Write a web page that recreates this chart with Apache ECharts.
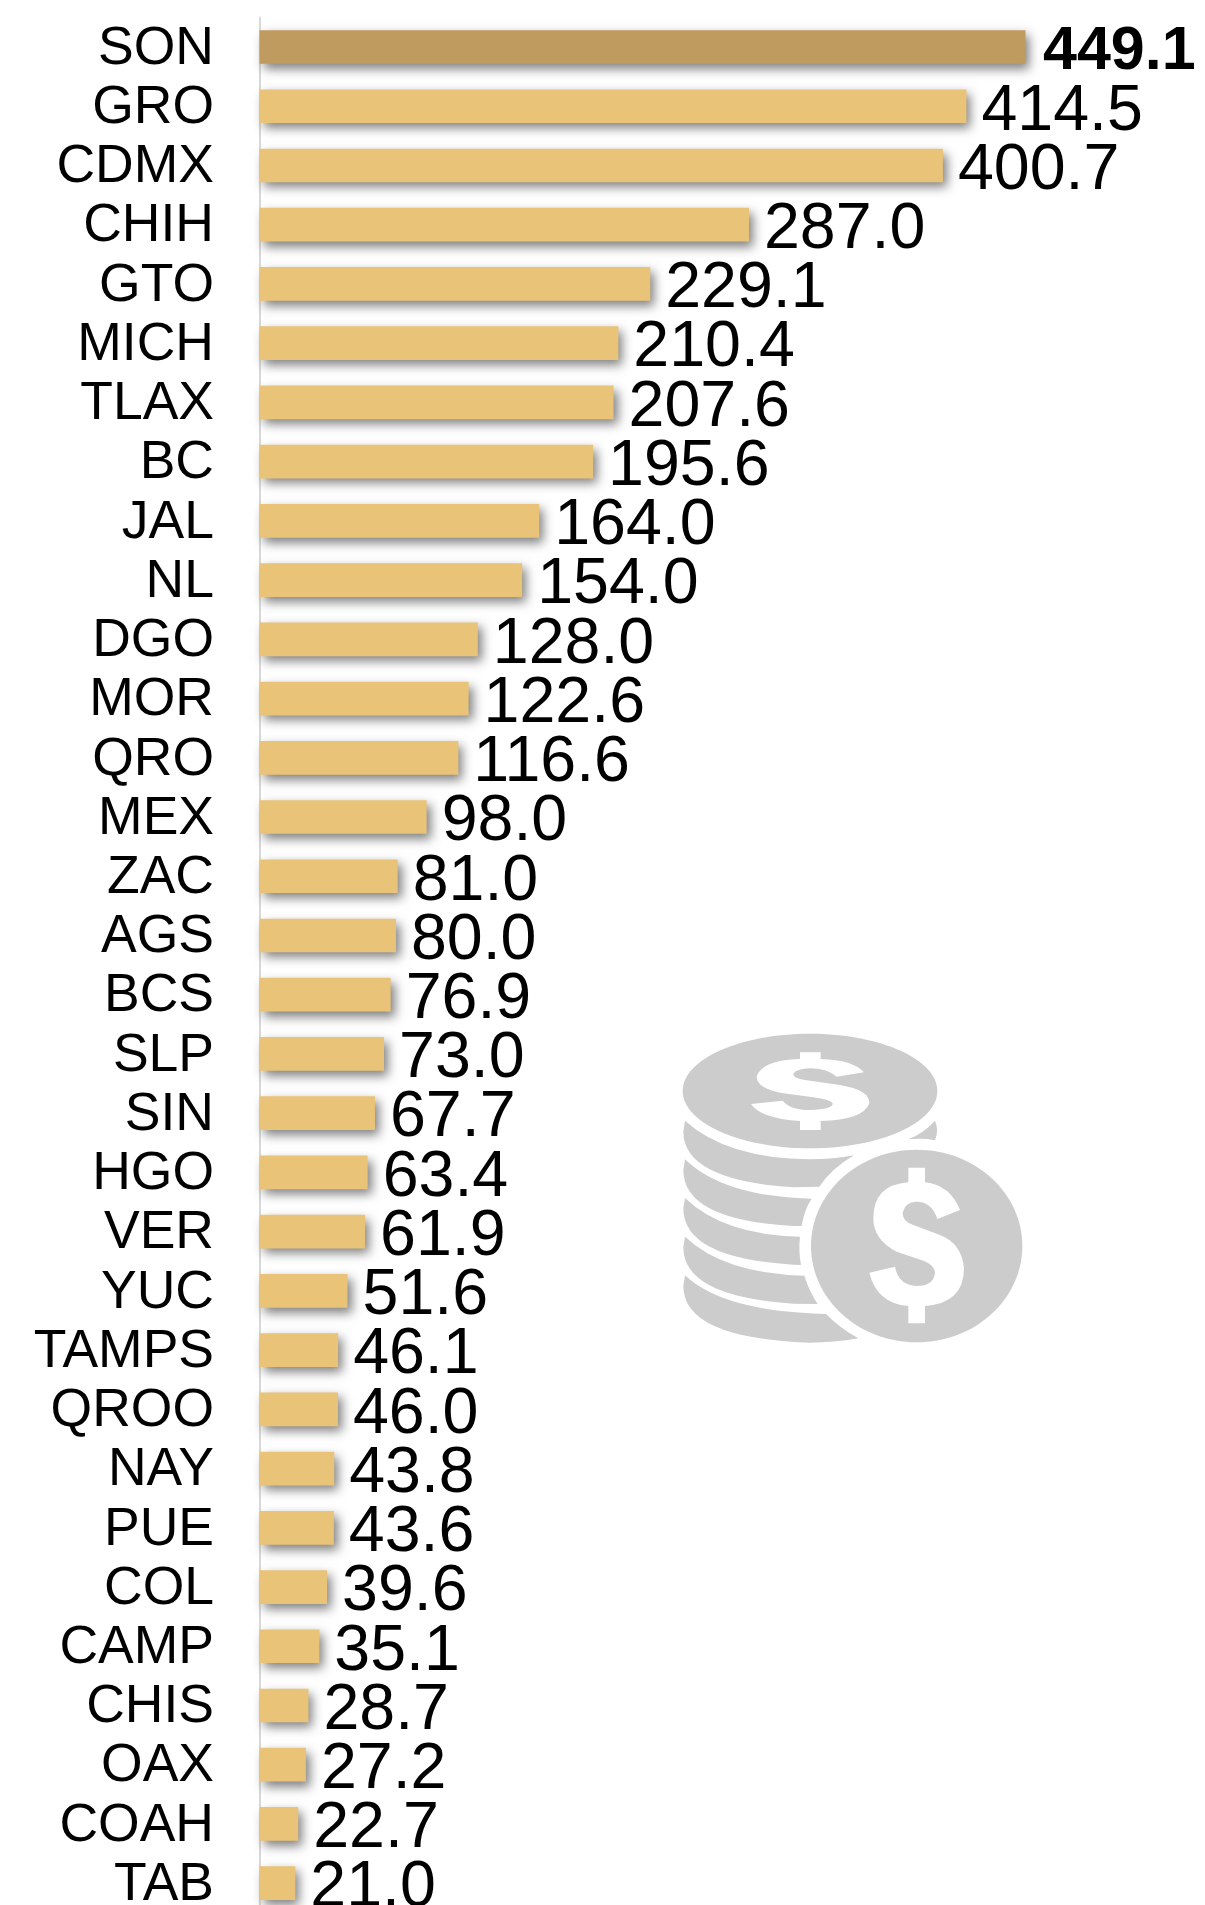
<!DOCTYPE html>
<html>
<head>
<meta charset="utf-8">
<style>html,body{margin:0;padding:0;background:#fff}#chart{width:1205px;height:1905px}</style>
<script src="https://cdn.jsdelivr.net/npm/echarts@6/dist/echarts.min.js"></script>
</head>
<body>
<div id="chart"></div>
<script>
const categories = ['SON','GRO','CDMX','CHIH','GTO','MICH','TLAX','BC','JAL','NL','DGO','MOR','QRO','MEX','ZAC','AGS','BCS','SLP','SIN','HGO','VER','YUC','TAMPS','QROO','NAY','PUE','COL','CAMP','CHIS','OAX','COAH','TAB'];
const values = [449.1,414.5,400.7,287.0,229.1,210.4,207.6,195.6,164.0,154.0,128.0,122.6,116.6,98.0,81.0,80.0,76.9,73.0,67.7,63.4,61.9,51.6,46.1,46.0,43.8,43.6,39.6,35.1,28.7,27.2,22.7,21.0];
const highlightCategory = 'SON';

const iconGrey = '#CCCCCC';
const iconPaths = [
 'M75,332 Q200,445 450,448 Q520,448 582,436 Q515,475 478,530 L400,532 Q70,510 70,365 Z',
 'M825,332 Q790,370 745,388 Q790,384 825,391 Q838,360 825,332 Z',
 'M75,448 Q190,560 455,566 Q432,600 425,648 L400,648 Q70,630 70,480 Z',
 'M75,564 Q190,675 420,680 Q415,720 423,765 L400,764 Q70,745 70,595 Z',
 'M75,680 Q190,790 433,797 Q448,845 473,882 L400,881 Q70,860 70,712 Z',
 'M75,796 Q190,905 498,912 Q540,955 595,985 Q520,998 450,998 Q70,985 70,828 Z'
];
const bigDollar = 'M900,600 Q870,525 795,517 L795,473 L745,473 L745,517 Q640,525 640,625 Q640,690 710,725 L790,752 Q825,765 825,790 Q820,828 770,828 Q715,825 705,770 L628,788 Q650,880 745,888 L745,940 L795,940 L795,888 Q912,880 912,775 Q905,700 840,675 L760,645 Q728,635 728,610 Q735,575 770,575 Q815,575 832,627 Z';
const smallDollar = 'M612,187 L530,200 Q500,175 450,175 Q400,178 400,195 Q405,208 450,212 L540,225 Q630,240 628,280 Q610,330 482,333 L482,360 L420,360 L420,333 Q300,325 273,282 L368,272 Q390,300 450,300 Q520,298 518,280 Q510,268 460,262 L370,250 Q290,235 290,200 Q305,150 420,147 L420,127 L482,127 L482,147 Q580,150 612,187 Z';

iconPaths.forEach((d,i)=>echarts.graphic.registerShape('coinLayer'+i, echarts.graphic.extendPath(d,{})));
echarts.graphic.registerShape('bigDollar', echarts.graphic.extendPath(bigDollar,{}));
echarts.graphic.registerShape('smallDollar', echarts.graphic.extendPath(smallDollar,{}));

const chart = echarts.init(document.getElementById('chart'), null, {renderer:'canvas'});
const fontFamily = '"Liberation Sans", Arial, sans-serif';
chart.setOption({
  animation:false,
  backgroundColor:'#fff',
  grid:{left:259.5,top:17.4,right:178,height:1895.4,containLabel:false,outerBoundsMode:'none'},
  xAxis:{type:'value',min:0,max:450,show:false},
  yAxis:{
    type:'category',inverse:true,data:categories,
    axisTick:{show:false},
    axisLine:{show:true,lineStyle:{color:'#D9D9D9',width:2}},
    axisLabel:{
      margin:45.5,interval:0,
      formatter:v=>'{c|'+v+'}',
      rich:{c:{color:'#000',fontFamily,fontSize:53.5,padding:[4,0,0,0]}}
    }
  },
  series:[{
    type:'bar',barWidth:33.7,
    data:values.map((v,i)=>({
      value:v,
      itemStyle:{color:categories[i]===highlightCategory?'#C09B60':'#E9C377'},
      label:categories[i]===highlightCategory
        ?{fontWeight:'bold',fontSize:61,distance:17.5}
        :{fontWeight:'normal'}
    })),
    itemStyle:{shadowColor:'rgba(0,0,0,0.5)',shadowBlur:10,shadowOffsetX:4,shadowOffsetY:5},
    label:{show:true,position:'right',distance:15,offset:[0,5.5],color:'#000',fontFamily,fontSize:64.5,
      formatter:p=>p.value.toFixed(1)}
  }],
  graphic:[{
    type:'group',x:660,y:1010,scaleX:1/3,scaleY:1/3,silent:true,
    children:[
      ...iconPaths.map((d,i)=>({type:'coinLayer'+i,style:{fill:iconGrey}})),
      {type:'ellipse',shape:{cx:450,cy:243,rx:382,ry:172},style:{fill:iconGrey}},
      {type:'ellipse',shape:{cx:770,cy:708,rx:317,ry:289},style:{fill:iconGrey}},
      {type:'smallDollar',style:{fill:'#fff'}},
      {type:'bigDollar',style:{fill:'#fff'}}
    ]
  }]
});
</script>
</body>
</html>
